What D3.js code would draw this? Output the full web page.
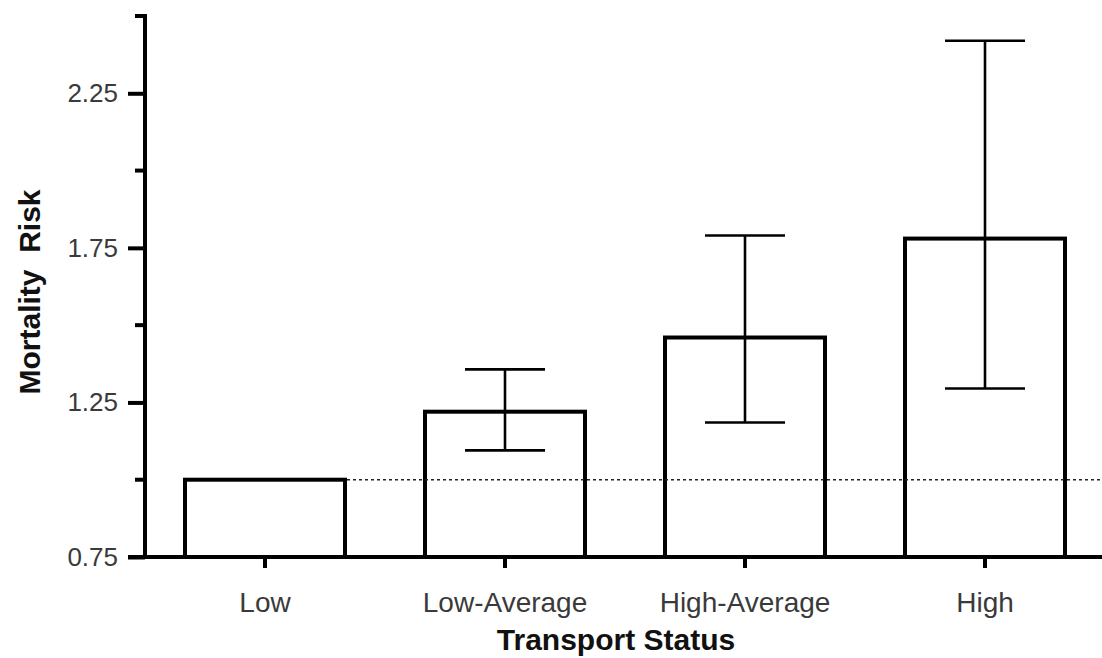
<!DOCTYPE html>
<html>
<head>
<meta charset="utf-8">
<script src="https://cdn.jsdelivr.net/npm/d3@7"></script>
<style>
  body { margin: 0; background: #fff; }
  svg { display: block; font-family: "Liberation Sans", Arial, sans-serif; }
</style>
</head>
<body>
<svg id="chart" width="1102" height="658"></svg>
<script>
// data
var categories = ["Low", "Low-Average", "High-Average", "High"];
var risk = [1.0, 1.22, 1.46, 1.78];
var ciLow = [null, 1.095, 1.185, 1.295];
var ciHigh = [null, 1.357, 1.79, 2.42];
var majorTicks = [0.75, 1.25, 1.75, 2.25];
var minorTicks = [1.0, 1.5, 2.0, 2.5];
var refLine = 1.0;

var svg = d3.select("#chart");
var axisX = 145, axisY = 557;

var y = d3.scaleLinear().domain([0.75, 2.5]).range([axisY, 16]);
var x = d3.scaleBand().domain(categories).range([axisX, 1105])
  .paddingInner(1 / 3).paddingOuter(1 / 6);

// bars
svg.selectAll("rect.bar").data(categories).enter().append("rect")
  .attr("class", "bar")
  .attr("x", function (d) { return x(d); })
  .attr("width", x.bandwidth())
  .attr("y", function (d, i) { return y(risk[i]); })
  .attr("height", function (d, i) { return axisY - y(risk[i]); })
  .attr("fill", "#fff").attr("stroke", "#000").attr("stroke-width", 4);

// reference line at 1, on top of the bars, from the first bar's right edge
svg.append("line")
  .attr("x1", x("Low") + x.bandwidth() + 2).attr("x2", 1102)
  .attr("y1", y(refLine)).attr("y2", y(refLine))
  .attr("stroke", "#222").attr("stroke-width", 1.6)
  .attr("stroke-dasharray", "3,3");

// error bars
var capW = 40;
categories.forEach(function (c, i) {
  if (ciLow[i] == null) return;
  var cx = x(c) + x.bandwidth() / 2;
  var g = svg.append("g").attr("stroke", "#000").attr("stroke-width", 2.6);
  g.append("line").attr("x1", cx).attr("x2", cx)
    .attr("y1", y(ciLow[i])).attr("y2", y(ciHigh[i]));
  [ciLow[i], ciHigh[i]].forEach(function (v) {
    g.append("line").attr("x1", cx - capW).attr("x2", cx + capW)
      .attr("y1", y(v)).attr("y2", y(v));
  });
});

// y axis
var yAxis = svg.append("g").attr("transform", "translate(" + axisX + ",0)");
yAxis.call(d3.axisLeft(y).tickValues(majorTicks).tickSize(17).tickPadding(10)
  .tickFormat(d3.format(".2f")));
yAxis.select(".domain").remove();
yAxis.selectAll(".tick line").attr("stroke", "#000").attr("stroke-width", 4);
yAxis.selectAll(".tick text").attr("font-size", 26).attr("fill", "#3a3a3a");
yAxis.selectAll("line.minor").data(minorTicks).enter().append("line")
  .attr("class", "minor")
  .attr("x1", -10).attr("x2", 0)
  .attr("y1", function (d) { return y(d); }).attr("y2", function (d) { return y(d); })
  .attr("stroke", "#000").attr("stroke-width", 4);
yAxis.append("line").attr("x1", 0).attr("x2", 0)
  .attr("y1", y(2.5) - 2).attr("y2", axisY + 2)
  .attr("stroke", "#000").attr("stroke-width", 4);

// x axis
var xAxis = svg.append("g").attr("transform", "translate(0," + axisY + ")");
xAxis.call(d3.axisBottom(x).tickSize(11).tickPadding(24));
xAxis.select(".domain").remove();
xAxis.selectAll(".tick line").attr("stroke", "#000").attr("stroke-width", 4);
xAxis.selectAll(".tick text").attr("font-size", 28).attr("fill", "#3a3a3a");
xAxis.append("line").attr("x1", 128).attr("x2", 1102).attr("y1", 0).attr("y2", 0)
  .attr("stroke", "#000").attr("stroke-width", 4);

// axis titles
svg.append("text")
  .attr("transform", "translate(40,292) rotate(-90)")
  .attr("text-anchor", "middle")
  .attr("font-size", 30).attr("font-weight", "bold").attr("fill", "#111")
  .attr("xml:space", "preserve").style("white-space", "pre")
  .text("Mortality  Risk");

svg.append("text")
  .attr("x", 616).attr("y", 650)
  .attr("text-anchor", "middle")
  .attr("font-size", 30).attr("font-weight", "bold").attr("fill", "#111")
  .text("Transport Status");
</script>
</body>
</html>
